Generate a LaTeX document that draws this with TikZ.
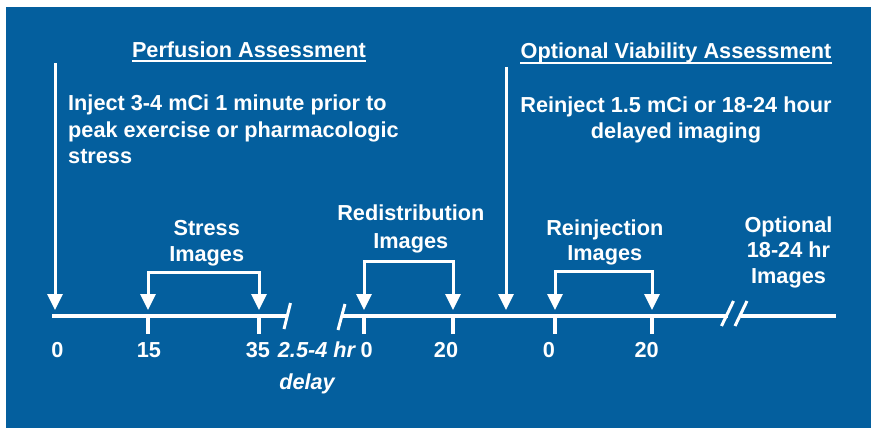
\documentclass[tikz,border=0pt]{standalone}
\usepackage{fontspec}
\setmainfont{Liberation Sans}
\usetikzlibrary{arrows.meta}
\definecolor{bgblue}{RGB}{4,95,158}
\begin{document}
\begin{tikzpicture}[x=1pt,y=-1pt,
  txt/.style={text=white,font=\bfseries\fontsize{21.7}{26}\selectfont,inner sep=0pt,anchor=base},
  itxt/.style={txt,font=\bfseries\itshape\fontsize{21.7}{26}\selectfont},
  axis/.style={draw=white,line width=4pt},
  tick/.style={draw=white,line width=4pt},
  brk/.style={draw=white,line width=3pt},
  arr/.style={draw=white,line width=3pt,line join=miter,-{Triangle[width=15pt,length=16pt]}},
  uline/.style={draw=white,line width=1.6pt}]
\useasboundingbox (0,0) rectangle (871,428);
\fill[bgblue] (6,7) rectangle (871,428);

% titles
\node[txt] (t1) at (249,57.5) {Perfusion Assessment};
\node[txt] (t2) at (676,59) {Optional Viability Assessment};
\draw[uline] ([yshift=-3.8pt]t1.base west) -- ([yshift=-3.8pt]t1.base east);
\draw[uline] ([yshift=-3.8pt]t2.base west) -- ([yshift=-3.8pt]t2.base east);

% descriptions
\node[txt,anchor=base west] (d1) at (68,110.7) {Inject 3-4 mCi 1 minute prior to};
\node[txt,anchor=base west] (d2) at (68,137) {peak exercise or pharmacologic};
\node[txt,anchor=base west] (d3) at (68,163) {stress};
\node[txt] (r1) at (676,112.7) {Reinject 1.5 mCi or 18-24 hour};
\node[txt] (r2) at (676,138.5) {delayed imaging};

% axis coordinates
\coordinate (a0) at (52,316);
\coordinate (a1) at (286,316);
\coordinate (b0) at (343,316);
\coordinate (b1) at (728,316);
\coordinate (c0) at (741,316);
\coordinate (c1) at (836,316);
\draw[axis] (a0) -- (a1);
\draw[axis] (b0) -- (b1);
\draw[axis] (c0) -- (c1);

% breaks
\coordinate (k1a) at (284,329); \coordinate (k1b) at (290.5,303);
\coordinate (k2a) at (338,330); \coordinate (k2b) at (345,304);
\coordinate (k3a) at (721.5,326); \coordinate (k3b) at (733.5,301);
\coordinate (k4a) at (735,326); \coordinate (k4b) at (747,301);
\draw[brk] (k1a) -- (k1b);
\draw[brk] (k2a) -- (k2b);
\draw[brk] (k3a) -- (k3b);
\draw[brk] (k4a) -- (k4b);

% ticks
\foreach \n/\x in {s15/148,s35/259,r0/364,r20/453,j0/555,j20/652}{
  \coordinate (\n) at (\x,314);
  \coordinate (\n b) at (\x,334);
  \coordinate (\n t) at (\x,310);
  \draw[tick] (\n) -- (\n b);
}

% injection arrows
\coordinate (inj1s) at (55,63);
\coordinate (inj1e) at (55,310);
\coordinate (inj2s) at (506,67);
\coordinate (inj2e) at (506,310);
\draw[arr] (inj1s) -- (inj1e);
\draw[arr] (inj2s) -- (inj2e);

% brackets
\coordinate (sb1) at (148,272); \coordinate (sb2) at (259,272);
\coordinate (rb1) at (364,261); \coordinate (rb2) at (453,261);
\coordinate (jb1) at (555,271); \coordinate (jb2) at (652,271);
\draw[arr] (sb2) -- (sb1) -- (s15t);
\draw[arr] (sb1) -- (sb2) -- (s35t);
\draw[arr] (rb2) -- (rb1) -- (r0t);
\draw[arr] (rb1) -- (rb2) -- (r20t);
\draw[arr] (jb2) -- (jb1) -- (j0t);
\draw[arr] (jb1) -- (jb2) -- (j20t);

% bracket labels
\node[txt] (sl1) at (206.7,235.7) {Stress};
\node[txt] (sl2) at (206.7,261.7) {Images};
\node[txt] (rl1) at (410.8,220.7) {Redistribution};
\node[txt] (rl2) at (410.8,248.3) {Images};
\node[txt] (jl1) at (604.8,235) {Reinjection};
\node[txt] (jl2) at (604.8,260.7) {Images};
\node[txt] (ol1) at (788.5,232.3) {Optional};
\node[txt] (ol2) at (788.5,257.8) {18-24 hr};
\node[txt] (ol3) at (788.5,283.3) {Images};

% numbers
\node[txt] (n0) at (57.3,357.3) {0};
\node[txt] (n15) at (149,357.3) {15};
\node[txt] (n35) at (258,357.3) {35};
\node[itxt] (nd) at (316.5,357.3) {2.5-4 hr};
\node[itxt] (ndl) at (307,389) {delay};
\node[txt] (nr0) at (366.7,357.3) {0};
\node[txt] (nr20) at (446,357.3) {20};
\node[txt] (nj0) at (549,357.3) {0};
\node[txt] (nj20) at (646.7,357.3) {20};
\end{tikzpicture}
\end{document}
